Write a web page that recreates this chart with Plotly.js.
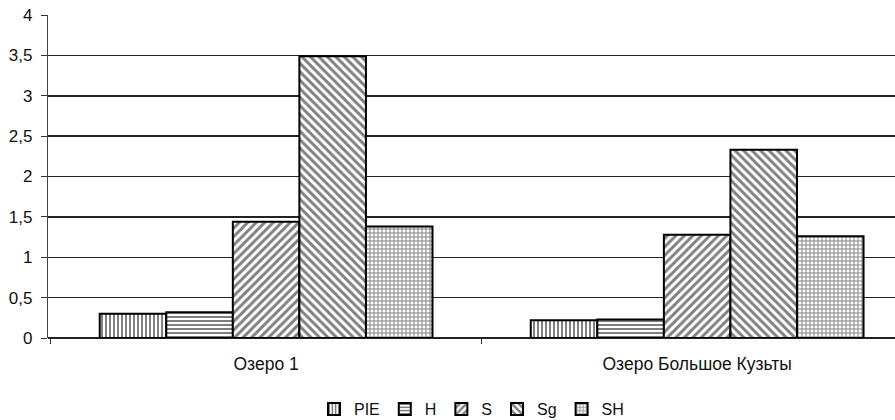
<!DOCTYPE html>
<html>
<head>
<meta charset="utf-8">
<script src="https://cdn.plot.ly/plotly-3.0.1.min.js"></script>
<style>html,body{margin:0;padding:0;background:#fff;}#chart{width:895px;height:420px;}</style>
</head>
<body>
<div id="chart"></div>
<script>
const categories = ["Озеро 1", "Озеро Большое Кузьты"];
const seriesNames = ["PIE", "H", "S", "Sg", "SH"];
const valuesPIE = [0.30, 0.22];
const valuesH = [0.32, 0.23];
const valuesS = [1.44, 1.28];
const valuesSg = [3.49, 2.33];
const valuesSH = [1.38, 1.26];
const yTickVals = [0, 0.5, 1, 1.5, 2, 2.5, 3, 3.5, 4];

const allValues = [valuesPIE, valuesH, valuesS, valuesSg, valuesSH];
const patterns = [
  {shape: "|", size: 4, solidity: 0.5},
  {shape: "-", size: 4, solidity: 0.5},
  {shape: "/", size: 6, solidity: 0.48},
  {shape: "\\", size: 6, solidity: 0.48},
  {shape: "+", size: 4, solidity: 0.42}
];

const traces = seriesNames.map((name, i) => ({
  type: "bar",
  name: name,
  x: categories,
  y: allValues[i],
  marker: {
    color: "#ffffff",
    line: {color: "#000000", width: 2},
    pattern: Object.assign({fgcolor: "#000000", bgcolor: "#ffffff", fillmode: "overlay"}, patterns[i])
  },
  hoverinfo: "skip"
}));

const layout = {
  width: 895,
  height: 420,
  margin: {l: 48, r: 0, t: 15, b: 82, pad: 0, autoexpand: false},
  paper_bgcolor: "#ffffff",
  plot_bgcolor: "#ffffff",
  separators: ", ",
  barmode: "group",
  bargap: 0.228,
  bargroupgap: 0,
  font: {family: "Liberation Sans, Arial, sans-serif", color: "#111", size: 16},
  xaxis: {
    type: "category",
    range: [-0.506, 1.459],
    automargin: false,
    showgrid: false,
    showline: false,
    zeroline: false,
    ticks: "outside",
    tickson: "boundaries",
    ticklen: 5,
    tickcolor: "#333",
    ticklabelstandoff: 13,
    tickfont: {size: 17.5, family: "Liberation Sans, Arial, sans-serif", color: "#111"}
  },
  yaxis: {
    range: [0, 4],
    automargin: false,
    tickvals: yTickVals,
    showgrid: true,
    gridcolor: "#222",
    gridwidth: 1.5,
    zeroline: true,
    zerolinecolor: "#222",
    zerolinewidth: 1.5,
    showline: true,
    linecolor: "#444",
    linewidth: 1.2,
    ticks: "outside",
    ticklen: 6,
    tickcolor: "#333",
    ticklabelstandoff: 5,
    tickfont: {size: 17, family: "Liberation Sans, Arial, sans-serif", color: "#111"}
  },
  showlegend: true,
  legend: {
    orientation: "h",
    x: 0.5,
    xanchor: "center",
    y: -0.22,
    yanchor: "middle",
    font: {size: 16, family: "Liberation Sans, Arial, sans-serif", color: "#111"},
    itemwidth: 30,
    tracegroupgap: 0,
    traceorder: "normal"
  }
};

Plotly.newPlot("chart", traces, layout, {staticPlot: true, displayModeBar: false});
</script>
</body>
</html>
